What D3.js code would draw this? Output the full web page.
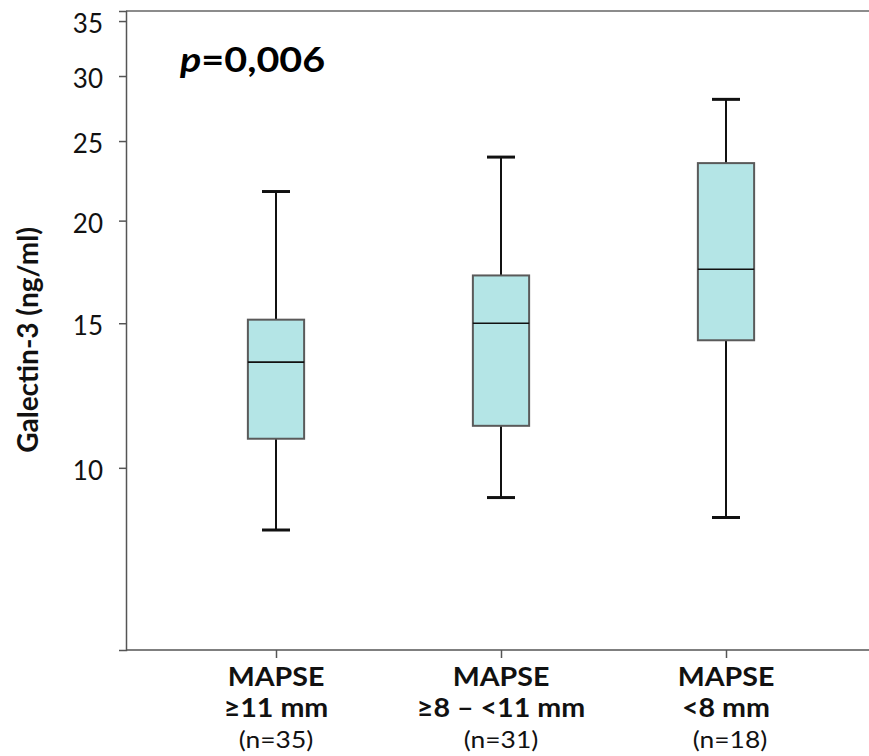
<!DOCTYPE html>
<html>
<head>
<meta charset="utf-8">
<script src="https://cdn.jsdelivr.net/npm/d3@7"></script>
<style>
  html, body { margin: 0; padding: 0; background: #fff; }
  svg { display: block; font-family: Lato, "Open Sans", sans-serif; }
</style>
</head>
<body>
<svg id="chart" width="869" height="756"></svg>
<script>
// Galectin-3 by MAPSE group: five-number summaries (ng/ml)
const groups   = ["MAPSE\n≥11 mm", "MAPSE\n≥8 – <11 mm", "MAPSE\n<8 mm"];
const counts   = ["(n=35)", "(n=31)", "(n=18)"];
const whiskLo  = [8.4, 9.2, 8.7];
const q1       = [10.85, 11.25, 14.3];
const medians  = [13.45, 15.0, 17.45];
const q3       = [15.15, 17.15, 23.5];
const whiskHi  = [21.7, 23.9, 28.1];
const yTicks   = [10, 15, 20, 25, 30, 35];
const pLabel   = ["p", "=0,006"];

(function draw() {
  const svg = d3.select("#chart");
  const plotL = 126, plotT = 11, plotB = 650, plotR = 876, canvasR = 869;

  const x = d3.scalePoint().domain(groups).range([plotL, plotR]).padding(2 / 3);
  const y = d3.scaleLog().domain([6, 36]).range([plotB, plotT]);

  // plot frame top edge
  svg.append("line").attr("x1", plotL).attr("x2", canvasR).attr("y1", plotT).attr("y2", plotT)
    .attr("stroke", "#8c8c8c").attr("stroke-width", 2);

  // y axis
  const yAxis = svg.append("g").attr("transform", `translate(${plotL},0)`)
    .call(d3.axisLeft(y).tickValues(yTicks).tickFormat(d3.format("d")).tickSize(7).tickPadding(16));
  yAxis.select(".domain").attr("stroke", "#555").attr("stroke-width", 1.5);
  yAxis.selectAll(".tick line").attr("stroke", "#555").attr("stroke-width", 1.5);
  yAxis.selectAll(".tick text").attr("font-size", 26).attr("fill", "#111")
    .attr("font-family", "Lato, sans-serif").attr("dy", "0.45em");

  // x axis
  const xAxis = svg.append("g").attr("transform", `translate(0,${plotB})`)
    .call(d3.axisBottom(x).tickSize(8).tickFormat(""));
  xAxis.select(".domain").attr("stroke", "#555").attr("stroke-width", 1.5)
    .attr("d", `M${plotL},0H${canvasR}`);
  xAxis.selectAll(".tick line").attr("stroke", "#555").attr("stroke-width", 1.5);

  // category labels: two bold lines, then the group size
  groups.forEach((g, i) => {
    const lines = g.split("\n");
    lines.forEach((line, k) => {
      svg.append("text")
        .attr("transform", `translate(${x(g)},${686 + k * 31}) scale(1.1,1)`)
        .attr("text-anchor", "middle").attr("fill", "#111")
        .attr("font-size", 26).attr("font-weight", "bold").text(line);
    });
    svg.append("text")
      .attr("transform", `translate(${x(g) + (i === 2 ? 4 : 0)},748) scale(1.1,1)`)
      .attr("text-anchor", "middle").attr("fill", "#111")
      .attr("font-size", 24).text(counts[i]);
  });

  // y axis title
  svg.append("text")
    .attr("transform", `translate(38,340) rotate(-90)`)
    .attr("text-anchor", "middle").attr("font-size", 28).attr("font-weight", "bold")
    .attr("fill", "#111").text("Galectin-3 (ng/ml)");

  // p-value annotation
  const p = svg.append("text")
    .attr("transform", "translate(180,72) scale(1.13,1)")
    .attr("font-size", 35).attr("font-weight", "bold").attr("fill", "#000");
  p.append("tspan").attr("font-style", "italic").text(pLabel[0]);
  p.append("tspan").text(pLabel[1]);

  // boxes
  const boxW = x.step() * 0.25, capW = 28;
  const data = groups.map((g, i) => ({
    g, lo: whiskLo[i], q1: q1[i], med: medians[i], q3: q3[i], hi: whiskHi[i]
  }));
  const box = svg.append("g").selectAll("g").data(data).join("g")
    .attr("transform", d => `translate(${x(d.g)},0)`);

  box.append("line").attr("y1", d => y(d.hi)).attr("y2", d => y(d.q3))
    .attr("stroke", "#111").attr("stroke-width", 2);
  box.append("line").attr("y1", d => y(d.q1)).attr("y2", d => y(d.lo))
    .attr("stroke", "#111").attr("stroke-width", 2);
  box.append("line").attr("x1", -capW / 2).attr("x2", capW / 2)
    .attr("y1", d => y(d.hi)).attr("y2", d => y(d.hi))
    .attr("stroke", "#111").attr("stroke-width", 3);
  box.append("line").attr("x1", -capW / 2).attr("x2", capW / 2)
    .attr("y1", d => y(d.lo)).attr("y2", d => y(d.lo))
    .attr("stroke", "#111").attr("stroke-width", 3);
  box.append("rect").attr("x", -boxW / 2).attr("width", boxW)
    .attr("y", d => y(d.q3)).attr("height", d => y(d.q1) - y(d.q3))
    .attr("fill", "#b4e5e6").attr("stroke", "#5a5a5a").attr("stroke-width", 2);
  box.append("line").attr("x1", -boxW / 2).attr("x2", boxW / 2)
    .attr("y1", d => y(d.med)).attr("y2", d => y(d.med))
    .attr("stroke", "#111").attr("stroke-width", 1.6);
})();
</script>
</body>
</html>
